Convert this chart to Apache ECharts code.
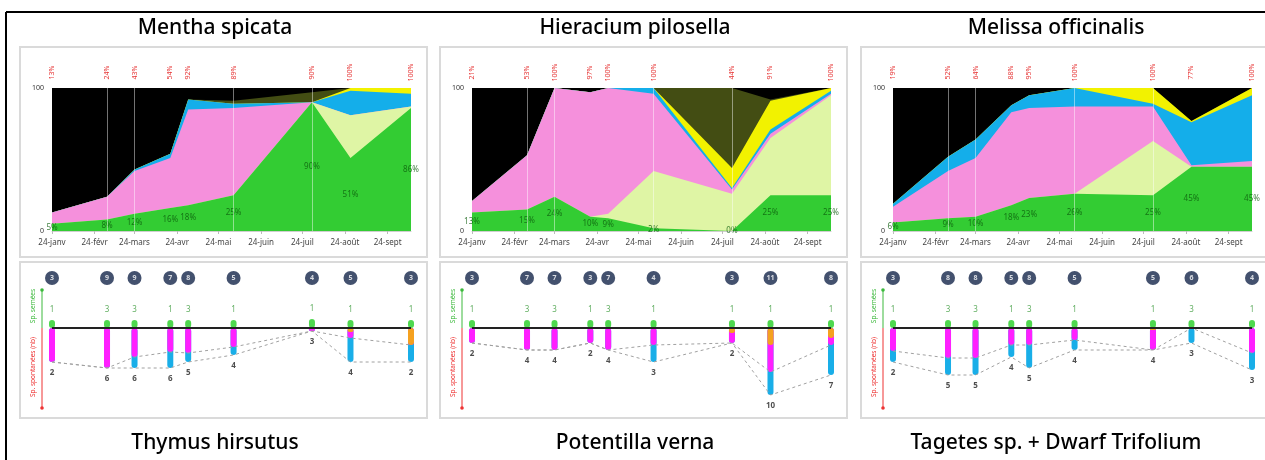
<!DOCTYPE html>
<html><head><meta charset="utf-8">
<script src="https://cdn.jsdelivr.net/npm/echarts@6/dist/echarts.min.js"></script>
<style>html,body{margin:0;padding:0;background:#fff}#c{width:1265px;height:460px}</style>
</head><body><div id="c"></div>
<script>
// ---------- shared axis data ----------
const sampleDates = ['2024-01-24','2024-03-04','2024-03-24','2024-04-19','2024-05-02','2024-06-04','2024-07-31','2024-08-28','2024-10-11'];
const monthTicks  = ['2024-01-24','2024-02-24','2024-03-24','2024-04-24','2024-05-24','2024-06-24','2024-07-24','2024-08-24','2024-09-24'];
const monthLabels = ['24-janv','24-févr','24-mars','24-avr','24-mai','24-juin','24-juil','24-août','24-sept'];
const markedSamples = [1,2,5,6];
const topTitles = ['Mentha spicata','Hieracium pilosella','Melissa officinalis'];
const bottomTitles = ['Thymus hirsutus','Potentilla verna','Tagetes sp. + Dwarf Trifolium'];
const coverNames = ['semée','trèfle','adventices 1','adventices 2','adventices 3','litière','sol nu'];
const coverColors = ['#33cc33','#dff5a5','#f590dc','#14aeea','#f2f200','#434d13','#000000'];

// ---------- panel 1 : Mentha spicata / Thymus hirsutus ----------
const p1Green  = [5,8,12,16,18,25,90,51,86];
const p1Pale   = [0,0,0,0,0,0,0,30,1];
const p1Pink   = [8,16,30,35,67,61,0,0,0];
const p1Blue   = [0,0,1,3,7,3,0,17,9];
const p1Yellow = [0,0,0,0,0,0,0,2,4];
const p1Olive  = [0,0,0,0,0,2,7,0,0];
const p1Bare   = [87,76,57,46,8,9,3,0,0];
const p1Sown     = [8,8,8,8,8,8,9,8,8];
const p1Orange   = [0,0,0,0,0,0,0,4,17];
const p1Magenta  = [34,40,29,24,25,19,3,6,0];
const p1BlueSp   = [0,0,11,16,9,8,0,24,17];
const p1SownN    = [1,3,3,1,3,1,1,1,1];
const p1SpontN   = [2,6,6,6,5,4,3,4,2];
const p1TotalN   = [3,9,9,7,8,5,4,5,3];

// ---------- panel 2 : Hieracium pilosella / Potentilla verna ----------
const p2Green  = [13,15,24,10,9,2,0,25,25];
const p2Pale   = [0,0,0,0,3,40,26,40,70];
const p2Pink   = [8,38,76,87,88,54,3,3,1];
const p2Blue   = [0,0,0,0,0,4,1,3,2];
const p2Yellow = [0,0,0,0,0,0,14,20,2];
const p2Olive  = [0,0,0,0,0,0,56,1,0];
const p2Bare   = [79,47,0,3,0,0,0,8,0];
const p2Sown     = [8,8,8,8,8,8,8,8,8];
const p2Orange   = [0,0,0,0,0,0,5,17,10];
const p2Magenta  = [15,22,22,15,22,17,10,27,7];
const p2BlueSp   = [0,0,0,0,0,17,0,23,30];
const p2SownN    = [1,3,3,1,3,1,1,1,1];
const p2SpontN   = [2,4,4,2,4,3,2,10,7];
const p2TotalN   = [3,7,7,3,7,4,3,11,8];

// ---------- panel 3 : Melissa officinalis / Tagetes + Trifolium ----------
const p3Green  = [6,9,10,18,23,26,25,45,45];
const p3Pale   = [0,0,0,0,0,0,38,0,0];
const p3Pink   = [11,33,41,65,63,61,24,1,4];
const p3Blue   = [2,10,13,5,9,13,2,30,46];
const p3Yellow = [0,0,0,0,0,0,11,1,5];
const p3Olive  = [0,0,0,0,0,0,0,0,0];
const p3Bare   = [81,48,36,12,5,0,0,23,0];
const p3Sown     = [8,8,8,8,8,8,8,8,8];
const p3Orange   = [0,0,0,0,0,0,2,0,0];
const p3Magenta  = [23,30,30,17,17,12,20,0,25];
const p3BlueSp   = [11,17,17,12,23,10,0,15,17];
const p3SownN    = [1,3,3,1,3,1,1,3,1];
const p3SpontN   = [2,5,5,4,5,4,4,3,3];
const p3TotalN   = [3,8,8,5,8,5,5,6,4];

const panels = [
  {cover:[p1Green,p1Pale,p1Pink,p1Blue,p1Yellow,p1Olive,p1Bare], sown:p1Sown, orange:p1Orange, magenta:p1Magenta, blue:p1BlueSp, sownN:p1SownN, spontN:p1SpontN, totalN:p1TotalN},
  {cover:[p2Green,p2Pale,p2Pink,p2Blue,p2Yellow,p2Olive,p2Bare], sown:p2Sown, orange:p2Orange, magenta:p2Magenta, blue:p2BlueSp, sownN:p2SownN, spontN:p2SpontN, totalN:p2TotalN},
  {cover:[p3Green,p3Pale,p3Pink,p3Blue,p3Yellow,p3Olive,p3Bare], sown:p3Sown, orange:p3Orange, magenta:p3Magenta, blue:p3BlueSp, sownN:p3SownN, spontN:p3SpontN, totalN:p3TotalN}
];
const panelOffsets = [0, 420, 841];

// ---------- build ----------
const DAY = 86400000;
const t0 = Date.parse(sampleDates[0] + 'T00:00:00Z');
const toDay = s => Math.round((Date.parse(s + 'T00:00:00Z') - t0) / DAY);
const xs = sampleDates.map(toDay);
const tickDays = monthTicks.map(toDay);
const maxDay = xs[xs.length - 1];
const F = '"Noto Sans", "DejaVu Sans", sans-serif';

const option = {animation:false, grid:[], xAxis:[], yAxis:[], series:[], graphic:[]};

// frame
option.graphic.push({type:'line', shape:{x1:6, y1:12, x2:1265, y2:12}, style:{stroke:'#000', lineWidth:2}});
option.graphic.push({type:'line', shape:{x1:6, y1:12, x2:6, y2:460}, style:{stroke:'#000', lineWidth:2}});

panels.forEach((p, i) => {
  const off = panelOffsets[i];
  const gt = 2 * i, gb = 2 * i + 1;

  // boxes + titles
  option.graphic.push({type:'rect', shape:{x:20+off, y:47, width:407, height:210}, style:{fill:'none', stroke:'#dadada', lineWidth:2}});
  option.graphic.push({type:'rect', shape:{x:20+off, y:262, width:407, height:156}, style:{fill:'none', stroke:'#dadada', lineWidth:2}});
  option.graphic.push({type:'text', x:215+off, y:28, style:{text:topTitles[i], fill:'#000', font:'500 21px ' + F, textAlign:'center', textVerticalAlign:'middle'}});
  option.graphic.push({type:'text', x:215+off, y:443, style:{text:bottomTitles[i], fill:'#000', font:'500 21px ' + F, textAlign:'center', textVerticalAlign:'middle'}});

  // bottom-left legend axis
  option.graphic.push({type:'line', shape:{x1:42+off, y1:290, x2:42+off, y2:328}, style:{stroke:'#3cb93c', lineWidth:1}});
  option.graphic.push({type:'line', shape:{x1:42+off, y1:328, x2:42+off, y2:408}, style:{stroke:'#ee3333', lineWidth:1}});
  option.graphic.push({type:'circle', shape:{cx:42+off, cy:290, r:1.8}, style:{fill:'#3cb93c'}});
  option.graphic.push({type:'circle', shape:{cx:42+off, cy:408, r:1.8}, style:{fill:'#ee3333'}});
  option.graphic.push({type:'text', x:33+off, y:306, rotation:Math.PI/2, style:{text:'Sp. semées', fill:'#3cb93c', font:'6.5px ' + F, textAlign:'center', textVerticalAlign:'middle'}});
  option.graphic.push({type:'text', x:33+off, y:367, rotation:Math.PI/2, style:{text:'Sp. spontanées (nb)', fill:'#ee3333', font:'6.5px ' + F, textAlign:'center', textVerticalAlign:'middle'}});

  option.grid.push({left:52+off, top:88, width:359, height:143});
  option.grid.push({left:52+off, top:270, width:359, height:139});

  option.xAxis.push({gridIndex:gt, type:'value', min:0, max:maxDay,
    axisLine:{show:true, lineStyle:{color:'#cfcfcf'}},
    axisTick:{show:true, customValues:tickDays, length:3, lineStyle:{color:'#bbb'}},
    axisLabel:{customValues:tickDays, formatter:v => monthLabels[tickDays.indexOf(Math.round(v))] || '', fontSize:8, color:'#444', margin:8, fontFamily:F},
    splitLine:{show:false}});
  option.xAxis.push({gridIndex:gb, type:'value', min:0, max:maxDay, show:false});
  option.yAxis.push({gridIndex:gt, type:'value', min:0, max:100, interval:100,
    axisLine:{show:false}, axisTick:{show:false}, splitLine:{show:false},
    axisLabel:{fontSize:7, color:'#333', margin:8, fontFamily:F}});
  option.yAxis.push({gridIndex:gb, type:'value', min:-81, max:58, show:false});

  // cumulative cover layers (bottom -> top)
  let cum = xs.map(() => 0);
  const cums = p.cover.map(arr => (cum = cum.map((c, k) => c + arr[k])));
  for (let L = p.cover.length - 1; L >= 0; L--) {
    option.series.push({type:'line', name:coverNames[L], xAxisIndex:gt, yAxisIndex:gt,
      data:xs.map((x, k) => [x, cums[L][k]]), symbol:'none', silent:true,
      lineStyle:{width:0}, areaStyle:{color:coverColors[L], opacity:1}, z:2});
  }
  const green = p.cover[0];
  const living = xs.map((x, k) => 100 - p.cover[6][k] - p.cover[5][k]);
  // green labels + vertical sample lines
  option.series.push({type:'scatter', xAxisIndex:gt, yAxisIndex:gt, z:4, silent:true,
    symbolSize:1, itemStyle:{color:'rgba(0,0,0,0)'},
    data:xs.map((x, k) => [x, green[k] / 2, green[k]]),
    label:{show:true, position:'inside', formatter:q => q.data[2] + '%', fontSize:8, color:'#0d5e0d', fontFamily:F},
    markLine:{silent:true, symbol:'none', label:{show:false},
      lineStyle:{color:'rgba(255,255,255,0.45)', width:1, type:'solid'},
      data:markedSamples.map(k => ({xAxis:xs[k]}))}});
  // red living-cover labels above plot
  option.series.push({type:'scatter', xAxisIndex:gt, yAxisIndex:gt, z:4, silent:true,
    symbolSize:1, itemStyle:{color:'rgba(0,0,0,0)'},
    data:xs.map((x, k) => [x, 100, living[k]]),
    label:{show:true, position:'top', distance:15, rotate:90, align:'center', verticalAlign:'middle',
      formatter:q => q.data[2] + '%', fontSize:7, color:'#e00000', fontFamily:F}});

  // ---------- bottom bars ----------
  const a1 = p.orange.map(v => -v);
  const a2 = p.orange.map((v, k) => -(v + p.magenta[k]));
  const a3 = p.orange.map((v, k) => -(v + p.magenta[k] + p.blue[k]));
  const barBase = {type:'bar', xAxisIndex:gb, yAxisIndex:gb, barWidth:6, barGap:'-100%', silent:true, z:3};
  option.series.push(Object.assign({}, barBase, {data:xs.map((x, k) => [x, a3[k]]), itemStyle:{color:'#19aee8', borderRadius:3}}));
  option.series.push(Object.assign({}, barBase, {data:xs.map((x, k) => [x, a2[k]]), itemStyle:{color:'#ff1fff', borderRadius:3}}));
  option.series.push(Object.assign({}, barBase, {data:xs.map((x, k) => [x, a1[k]]), itemStyle:{color:'#f5a11f', borderRadius:3}}));
  option.series.push(Object.assign({}, barBase, {data:xs.map((x, k) => [x, p.sown[k]]), itemStyle:{color:'#4fd84f', borderRadius:3}}));

  const dash = {type:'line', xAxisIndex:gb, yAxisIndex:gb, symbol:'none', silent:true, z:4,
    lineStyle:{color:'#a0a0a0', width:1, type:[3,3]}};
  option.series.push(Object.assign({}, dash, {data:xs.map((x, k) => [x, a2[k]])}));
  option.series.push(Object.assign({}, dash, {data:xs.map((x, k) => [x, a3[k]]),
    markLine:{silent:true, symbol:'none', label:{show:false}, lineStyle:{color:'#222', width:2, type:'solid'}, data:[{yAxis:0}]}}));

  // counts
  option.series.push({type:'scatter', xAxisIndex:gb, yAxisIndex:gb, z:5, silent:true, symbolSize:1, itemStyle:{color:'rgba(0,0,0,0)'},
    data:xs.map((x, k) => [x, p.sown[k], p.sownN[k]]),
    label:{show:true, position:'top', distance:6, formatter:q => q.data[2], fontSize:8, color:'#3a9a3a', fontFamily:F}});
  option.series.push({type:'scatter', xAxisIndex:gb, yAxisIndex:gb, z:5, silent:true, symbolSize:1, itemStyle:{color:'rgba(0,0,0,0)'},
    data:xs.map((x, k) => [x, a3[k], p.spontN[k]]),
    label:{show:true, position:'bottom', distance:6, formatter:q => q.data[2], fontSize:8, fontWeight:'bold', color:'#222', fontFamily:F}});
  option.series.push({type:'scatter', xAxisIndex:gb, yAxisIndex:gb, z:5, silent:true, symbolSize:14,
    itemStyle:{color:'#14264a'},
    data:xs.map((x, k) => [x, 50, p.totalN[k]]),
    label:{show:true, position:'inside', formatter:q => q.data[2], fontSize:7, fontWeight:'bold', color:'#fff', fontFamily:F}});
});

const chart = echarts.init(document.getElementById('c'), null, {renderer:'canvas'});
chart.setOption(option);
</script>
</body></html>
